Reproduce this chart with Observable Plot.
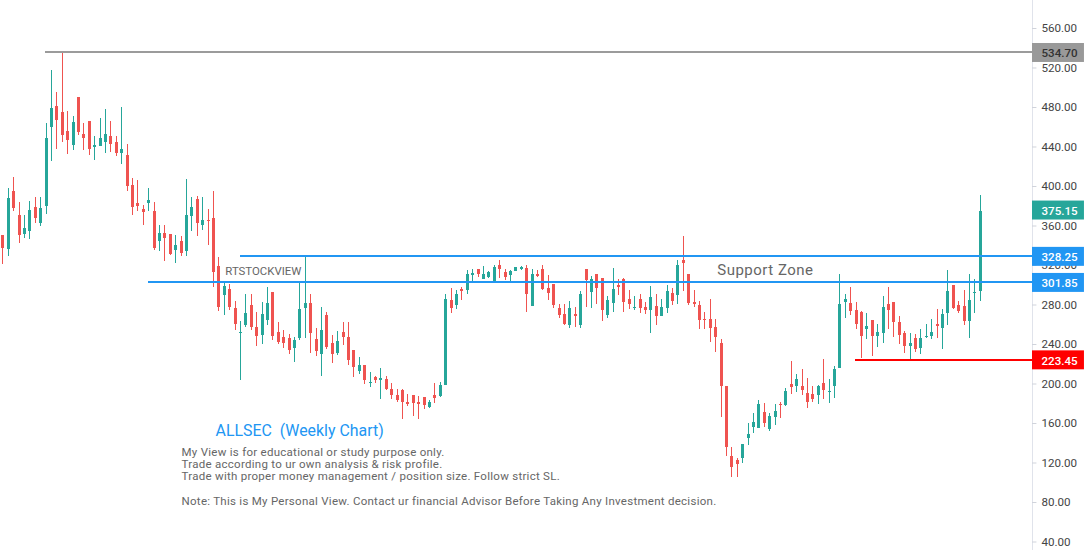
<!DOCTYPE html>
<html><head><meta charset="utf-8">
<script src="https://cdn.jsdelivr.net/npm/d3@7"></script>
<script src="https://cdn.jsdelivr.net/npm/@observablehq/plot@0.6"></script>
<style>html,body{margin:0;padding:0;background:#fff}svg{display:block}
.note-text text{letter-spacing:0.27px}
.zone-text text{letter-spacing:0.5px}
</style>
</head><body><div id="chart"></div>
<script>
const high=[350.3,398.3,409.3,383.8,370.8,384.8,388.8,388.8,463.8,517.3,495.3,534.7,475.8,470.8,490.3,463.8,465.8,450.8,468.8,478.3,465.8,450.8,480.3,442.8,408.3,406.3,380.8,398.3,383.8,360.8,360.8,351.3,350.3,349.3,407.3,388.8,389.8,388.8,376.8,394.8,328.3,302.8,300.8,283.8,263.2,290.8,290.8,272.2,282.8,297.8,292.8,262.2,254.2,250.2,247.2,301.8,329.3,290.8,256.2,277.8,272.2,249.2,253.2,262.2,262.2,233.7,226.7,218.7,211.7,207.7,215.7,207.7,200.7,194.7,194.7,189.2,188.2,187.2,186.2,183.2,200.7,201.7,290.8,296.8,294.8,297.8,314.8,316.3,316.3,319.3,313.8,320.3,325.3,316.3,315.3,318.3,319.3,320.3,316.3,315.3,320.3,309.8,300.8,280.8,280.8,283.8,277.8,293.8,316.3,308.8,310.8,306.8,288.8,317.3,305.8,306.8,294.8,288.8,290.8,282.8,298.8,290.8,285.8,299.8,296.8,325.3,349.3,310.8,294.8,283.8,272.2,285.8,265.2,245.2,197.7,135.7,124.7,138.7,160.2,170.2,183.2,180.2,170.2,179.2,181.2,195.7,222.7,209.7,214.7,205.7,197.7,198.7,224.7,204.7,217.7,310.8,290.8,297.8,282.8,273.2,271.2,264.2,260.2,288.8,297.8,282.8,268.2,253.2,251.2,250.2,255.2,260.2,265.2,275.8,275.8,314.8,299.8,283.8,294.8,310.8,305.8,390.8];
const low=[321.3,329.3,374.8,342.3,347.3,346.3,362.8,359.8,371.8,425.3,437.8,444.8,432.3,436.3,451.8,436.5,431.3,426.3,440.8,433.3,434.3,430.3,422.3,394.8,370.8,374.8,360.8,374.8,335.3,334.3,324.3,330.3,322.3,329.3,329.3,354.3,349.3,355.8,340.3,297.8,273.2,269.2,274.8,254.2,203.7,257.2,254.2,238.2,240.2,259.2,244.2,240.2,236.2,229.7,221.7,244.2,246.2,230.7,227.7,207.7,235.2,220.7,228.7,239.2,218.7,206.7,209.7,199.7,196.7,200.7,184.2,193.2,184.2,181.2,164.2,177.2,167.2,164.2,174.2,175.2,180.2,186.2,198.7,271.2,275.8,284.8,290.8,303.8,307.8,305.8,306.8,302.8,306.8,304.8,303.8,313.8,315.3,272.2,278.8,307.8,294.8,284.8,276.8,266.2,259.2,256.2,257.2,256.2,277.8,276.8,280.8,263.2,266.2,272.2,289.8,272.2,275.8,274.8,271.2,270.2,251.2,259.2,268.2,271.2,279.8,280.8,293.8,279.8,277.8,255.2,255.2,242.2,231.7,166.2,126.7,105.3,105.3,119.7,137.7,149.7,155.2,156.2,151.7,158.2,165.2,177.2,189.2,191.2,188.2,175.2,181.2,179.2,184.2,180.2,185.2,215.7,266.2,269.2,255.2,225.7,245.2,227.7,237.2,241.2,255.2,247.2,240.2,230.7,224.7,231.7,229.7,246.2,245.2,246.2,235.2,259.2,275.8,271.2,259.2,246.2,271.2,283.8];
const open=[350.3,336.3,394.8,370.8,351.3,354.3,378.8,362.8,379.8,459.8,481.3,474.8,455.8,441.8,490.3,452.8,465.8,439.8,440.8,444.8,450.8,444.8,433.3,431.3,401.3,382.8,376.8,382.8,374.8,344.3,352.3,351.3,335.3,344.3,334.3,369.8,386.8,360.8,365.8,367.8,319.3,289.8,295.8,276.8,251.2,259.2,279.8,257.2,249.2,264.2,292.8,252.2,247.2,246.2,236.2,246.2,276.8,281.8,245.2,229.7,269.2,241.2,230.7,252.2,247.2,233.7,212.7,218.7,200.7,206.7,203.7,204.7,194.7,188.2,193.2,181.2,188.2,181.2,186.2,176.2,188.2,187.2,198.7,284.8,279.8,295.8,294.8,309.8,316.3,305.8,307.8,302.8,320.3,312.8,309.8,313.8,316.3,317.3,278.8,310.8,316.3,296.8,300.8,276.8,270.2,259.2,270.2,259.2,316.3,292.8,310.8,306.8,269.2,281.8,299.8,305.8,285.8,276.8,285.8,277.8,274.8,278.8,268.2,276.8,291.8,289.8,325.3,310.8,282.8,279.8,265.2,265.2,257.2,241.2,197.7,126.7,122.7,124.7,144.7,156.2,155.2,171.2,154.2,166.2,179.2,178.2,199.7,197.7,197.7,190.2,189.2,188.2,200.7,191.2,197.7,215.7,282.8,281.8,274.8,272.2,255.2,264.2,248.2,251.2,280.8,282.8,262.2,251.2,238.2,246.2,236.2,247.2,248.2,260.2,256.2,271.2,299.8,279.8,278.8,263.2,291.8,293.8];
const close=[337.3,387.8,377.8,350.3,357.8,375.8,367.8,377.8,448.8,479.3,466.8,451.8,446.8,464.8,454.8,448.8,437.8,441.8,448.8,452.8,442.8,433.3,437.8,400.3,378.8,379.8,373.8,385.8,337.3,352.3,347.3,331.3,340.3,332.3,370.8,378.8,362.8,365.8,364.8,312.8,277.8,298.8,277.8,260.2,252.2,271.2,257.2,248.2,270.2,281.8,248.2,242.2,241.2,234.2,244.2,275.8,281.8,251.2,232.7,254.2,237.2,229.7,243.2,247.2,223.7,216.7,218.7,203.7,201.7,203.7,205.7,194.7,188.2,183.2,181.2,179.2,180.2,179.2,178.2,181.2,185.2,198.7,285.8,276.8,290.8,293.8,310.8,311.8,310.8,310.8,312.8,318.3,316.3,307.8,313.8,318.3,318.3,290.8,310.8,308.8,295.8,291.8,279.8,269.2,260.2,276.8,268.2,290.8,304.8,305.8,296.8,274.8,284.8,295.8,297.8,282.8,280.8,277.8,276.8,274.8,287.8,268.2,277.8,293.8,283.8,320.3,322.3,281.8,280.8,264.2,264.2,256.2,247.2,197.7,135.7,115.7,118.7,138.7,148.7,161.2,179.2,160.2,167.2,172.2,178.2,192.2,196.7,204.7,193.2,181.2,184.2,197.7,193.2,192.2,214.7,280.8,285.8,273.2,260.2,248.2,258.2,248.2,252.2,277.8,274.8,262.2,249.2,238.2,241.2,235.2,246.2,248.2,252.2,258.2,270.2,293.8,276.8,273.2,263.2,284.8,292.8,375.15];

const yTicks=[560,520,480,440,400,360,320,280,240,200,160,120,80,40];
const levelPrices=[534.7,328.25,301.85,223.45];
const levelStarts=[7.9,44,27,157.9];
const levelColors=["#9b9b9b","#2196f3","#2196f3","#ff0000"];
const tagPrices=[534.7,375.15,328.25,301.85,223.45];
const tagFills=["#999999","#26a69a","#2196f3","#2196f3","#ff0000"];
const tagInks=["#333333","#ffffff","#ffffff","#ffffff","#ffffff"];
const noteLines=["My View is for educational or study purpose only.","Trade according to ur own analysis & risk profile.","Trade with proper money management / position size. Follow strict SL.","Note: This is My Personal View. Contact ur financial Advisor Before Taking Any Investment decision."];
const notePrices=[130.6,118.5,106.3,81];

const xEnd=190.68, xOut=200.3, xTickEnd=191.5;
const font="Roboto";
const teal="#26a69a", red="#ef5350";
const candles=close.map((c,i)=>({i,o:open[i],h:high[i],l:low[i],c,col:c>=open[i]?teal:red}));
const levels=levelPrices.map((p,i)=>({p,s:levelStarts[i],col:levelColors[i]}));
const tags=tagPrices.map((p,i)=>({p,fill:tagFills[i],ink:tagInks[i]}));
const notes=noteLines.map((t,i)=>({t,p:notePrices[i]}));

const chart=Plot.plot({
  width:1084,height:550,
  marginLeft:0,marginRight:52,marginTop:0,marginBottom:0,
  style:{background:"#fff",fontFamily:font},
  x:{type:"linear",domain:[-0.43,xEnd],axis:null},
  y:{type:"linear",domain:[31.4,588.35],axis:null},
  marks:[
    Plot.ruleX([xEnd],{stroke:"#e0e3eb",strokeWidth:1,shapeRendering:"crispEdges"}),
    Plot.ruleX(candles,{x:"i",y1:"l",y2:"h",stroke:"col",strokeWidth:1,shapeRendering:"crispEdges"}),
    Plot.ruleX(candles,{x:"i",y1:"o",y2:"c",stroke:"col",strokeWidth:3,shapeRendering:"crispEdges"}),
    Plot.ruleY(levels,{y:"p",x1:"s",x2:xEnd,dy:-1,stroke:"col",strokeWidth:2,shapeRendering:"crispEdges"}),
    Plot.ruleY(yTicks,{y:d=>d,x1:xEnd,x2:xTickEnd,stroke:"#d0d3db"}),
    Plot.text(yTicks,{y:d=>d,x:xEnd,dx:9,text:d=>d.toFixed(2),textAnchor:"start",fontSize:11.6,fill:"#444",fontFamily:font}),
    Plot.rect(tags,{x1:xEnd,x2:xOut,y1:d=>d.p-9.6,y2:d=>d.p+9.6,dy:-0.5,fill:"fill"}),
    Plot.text(tags,{y:"p",x:xEnd,dx:9,text:d=>d.p.toFixed(2),textAnchor:"start",fontSize:11.6,fontWeight:500,fill:"ink",fontFamily:font}),
    Plot.text(["RTSTOCKVIEW"],{x:41.2,y:314,text:d=>d,textAnchor:"start",fontSize:11.4,fill:"#666",fontFamily:font}),
    Plot.text(["Support Zone"],{x:132.3,y:315,text:d=>d,textAnchor:"start",fontSize:15,fill:"#666",fontFamily:font,className:"zone-text"}),
    Plot.text(["ALLSEC  (Weekly Chart)"],{x:39.4,y:152.9,text:d=>d,textAnchor:"start",fontSize:15.9,fill:"#2196f3",fontFamily:font}),
    Plot.text(notes,{x:33.1,y:"p",text:"t",textAnchor:"start",fontSize:11.5,fill:"#666",fontFamily:font,className:"note-text"})
  ]
});
document.getElementById("chart").append(chart);
</script></body></html>
